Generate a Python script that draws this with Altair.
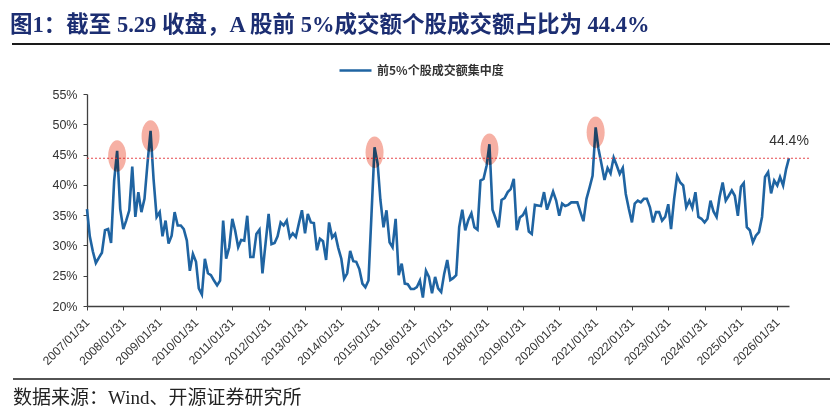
import calendar

import altair as alt
import pandas as pd

# Monthly concentration of turnover in the top 5% of A-share stocks (%), Jan 2007 - May 2026
values = [
    36.0, 31.5, 29.0, 27.1, 28.0, 28.8, 32.5, 32.7, 30.4, 40.7, 45.6, 36.0,  # 2007
    32.7, 34.1, 35.8, 43.0, 34.7, 38.8, 35.5, 37.7, 43.5, 48.9, 41.0, 34.7,  # 2008
    35.5, 31.5, 34.1, 30.3, 31.6, 35.5, 33.3, 33.3, 32.7, 30.8, 25.8, 28.6,  # 2009
    27.3, 22.9, 21.9, 27.8, 25.4, 25.1, 24.2, 23.4, 24.2, 34.1, 27.8, 29.7,  # 2010
    34.4, 32.5, 29.7, 30.9, 30.8, 34.9, 28.1, 28.1, 31.9, 32.6, 25.4, 30.3,  # 2011
    35.2, 30.2, 30.4, 31.5, 33.8, 33.3, 34.1, 31.3, 32.0, 31.4, 33.6, 35.8,  # 2012
    32.0, 35.2, 33.8, 33.7, 29.2, 31.1, 30.7, 27.6, 33.8, 31.3, 31.9, 29.6,  # 2013
    27.8, 24.5, 25.4, 29.1, 27.4, 27.3, 26.1, 23.7, 23.1, 24.2, 35.0, 46.2,  # 2014
    43.5, 37.5, 33.0, 35.8, 30.5, 29.7, 34.4, 25.1, 27.0, 23.7, 23.6, 22.8,  # 2015
    22.8, 23.1, 24.2, 21.4, 25.8, 24.8, 22.1, 24.8, 22.9, 22.3, 25.3, 27.6,  # 2016
    24.3, 24.6, 25.1, 33.0, 35.9, 32.5, 34.2, 35.3, 33.0, 32.6, 40.7, 41.0,  # 2017
    43.2, 46.7, 35.9, 34.5, 33.0, 37.5, 37.8, 38.8, 39.3, 41.0, 32.5, 34.6,  # 2018
    35.0, 35.9, 32.3, 31.9, 36.7, 36.6, 36.5, 38.8, 35.9, 37.4, 38.9, 37.4,  # 2019
    34.9, 36.9, 36.5, 36.7, 37.1, 37.1, 37.1, 35.5, 34.0, 37.7, 39.5, 41.5,  # 2020
    49.5, 46.0, 43.4, 40.8, 42.8, 41.9, 44.5, 43.2, 41.8, 42.8, 38.5, 36.0,  # 2021
    33.8, 36.9, 37.4, 37.1, 37.7, 37.7, 36.3, 33.8, 35.5, 35.5, 34.1, 34.7,  # 2022
    36.8, 32.7, 37.7, 41.5, 40.4, 39.9, 36.3, 37.4, 36.2, 38.8, 34.7, 34.4,  # 2023
    33.8, 34.4, 37.4, 35.6, 34.7, 38.0, 40.4, 37.4, 38.2, 39.1, 38.2, 34.9,  # 2024
    39.7, 40.3, 33.0, 32.5, 30.5, 31.6, 32.2, 34.7, 41.3, 42.1, 38.6, 40.7,  # 2025
    39.9, 41.3, 39.9, 42.6, 44.4,                                            # 2026
]

# Month-end observation dates; the latest reading is the 5.29 close
dates = []
for i in range(len(values)):
    y, m = 2007 + i // 12, i % 12 + 1
    dates.append(f"{y}/{m:02d}/{calendar.monthrange(y, m)[1]:02d}")
dates[-1] = "2026/05/29"

tick_years = list(range(2007, 2027))
y_ticks = [20, 25, 30, 35, 40, 45, 50, 55]
peak_months = [10, 21, 95, 133, 168]  # highlighted spikes

series_name = "前5%个股成交额集中度"
title_text = "图1：截至 5.29 收盘，A 股前 5%成交额个股成交额占比为 44.4%"
source_text = "数据来源：Wind、开源证券研究所"

BLUE = "#1F64A2"
W, H = 702, 212
PAD = {"left": 87, "top": 94, "right": 41, "bottom": 107}
AXIS_FONT = "Liberation Sans"
TITLE_FONT = "Liberation Serif, Noto Sans CJK SC"

df = pd.DataFrame({"date": dates, "value": values, "series": series_name})
peaks = df.iloc[peak_months]
last = df.iloc[[-1]].assign(label=f"{values[-1]:.1f}%")
ref = pd.DataFrame({"date": [dates[0]], "end": ["2026/12/31"], "value": [values[-1]]})

x_scale = alt.Scale(domain=[dates[0], dates[-1]], nice=False)
y_scale = alt.Scale(domain=[20, 55], nice=False)

x_axis = alt.Axis(
    values=[alt.DateTime(year=yr, month=1, date=31) for yr in tick_years],
    format="%Y/%m/%d", labelAngle=-45, labelAlign="right", labelBaseline="middle",
    labelFont=AXIS_FONT, labelFontSize=12, labelColor="#333333", labelPadding=10,
    tickSize=4, tickColor="#404040", domainColor="#404040", domainWidth=1.3,
    grid=False, title=None, labelOverlap=False, labelBound=False,
)
y_axis = alt.Axis(
    values=y_ticks, labelExpr="datum.value + '%'",
    labelFont=AXIS_FONT, labelFontSize=12.5, labelColor="#333333", labelPadding=6,
    tickSize=4, tickColor="#404040", domainColor="#404040", domainWidth=1.3,
    grid=False, title=None, labelOverlap=False,
)

X = alt.X("date:T", scale=x_scale, axis=x_axis)
Y = alt.Y("value:Q", scale=y_scale, axis=y_axis)

line = alt.Chart(df).mark_line(strokeWidth=2.6).encode(
    x=X,
    y=Y,
    color=alt.Color(
        "series:N", scale=alt.Scale(range=[BLUE]),
        legend=alt.Legend(
            orient="none", legendX=251, legendY=-41, title=None,
            symbolType="stroke", symbolStrokeWidth=2.6, symbolSize=1024,
            labelFont="Noto Sans CJK SC", labelFontSize=12, labelColor="#333333",
            labelFontWeight="bold",
        ),
    ),
)

ref_rule = alt.Chart(ref).mark_rule(color="#E5484D", strokeWidth=1.1, strokeDash=[2, 2]).encode(
    x=X, x2="end:T", y=Y
)

ellipse = "M -0.57,0 A 0.57,1 0 1,0 0.57,0 A 0.57,1 0 1,0 -0.57,0 Z"
halo = alt.Chart(peaks).mark_point(
    shape=ellipse, filled=True, size=1000, color="#F6B0A4", opacity=1,
    blend="multiply", yOffset=5, strokeWidth=0,
).encode(x=X, y=Y)

end_label = alt.Chart(last).mark_text(
    dy=-17, align="center", font=AXIS_FONT, fontSize=14, color="#333333"
).encode(x=X, y=Y, text="label:N")

title = alt.Chart(pd.DataFrame({"t": [title_text]})).mark_text(
    align="left", baseline="alphabetic", font=TITLE_FONT, fontSize=22.5,
    fontWeight="bold", color="#1C2E72",
).encode(x=alt.value(-77), y=alt.value(-62), text="t:N")

top_rule = alt.Chart(pd.DataFrame({"k": [0]})).mark_rule(color="#1a1a1a", strokeWidth=2).encode(
    x=alt.value(-75), x2=alt.value(743), y=alt.value(-50)
)
bottom_rule = alt.Chart(pd.DataFrame({"k": [0]})).mark_rule(color="#1a1a1a", strokeWidth=1.5).encode(
    x=alt.value(-74), x2=alt.value(743), y=alt.value(285)
)

source = alt.Chart(pd.DataFrame({"t": [source_text]})).mark_text(
    align="left", baseline="alphabetic", font=TITLE_FONT, fontSize=19, color="#222222",
).encode(x=alt.value(-74), y=alt.value(310), text="t:N")

chart = (
    alt.layer(line, ref_rule, halo, end_label, title, top_rule, bottom_rule, source)
    .properties(width=W, height=H, padding=PAD, autosize=alt.AutoSizeParams(type="none"),
                background="white")
    .configure_view(stroke=None)
    .configure_axisX(labelOverlap=False)
    .configure_axisY(labelOverlap=False)
)

chart.save("out.html", embed_options={"renderer": "svg", "actions": False})
